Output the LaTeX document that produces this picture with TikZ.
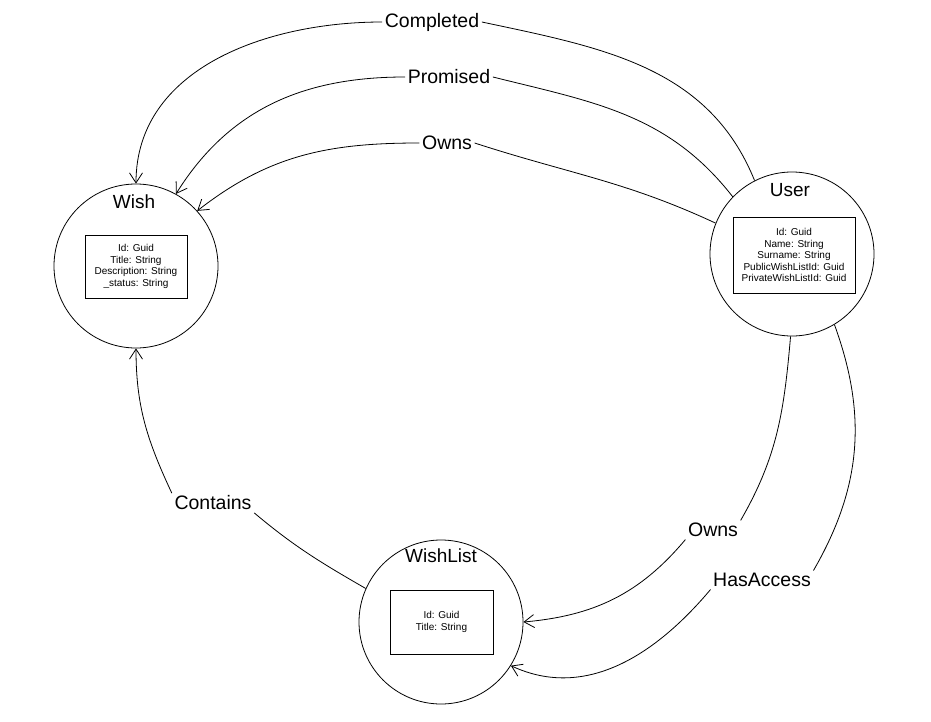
\documentclass[tikz,border=0pt]{standalone}
\usepackage{fontspec}
\setmainfont{Liberation Sans}
\usetikzlibrary{arrows.meta}
\begin{document}
\begin{tikzpicture}[x=1pt,y=-1pt,
  entity/.style={draw,circle,line width=0.8pt,minimum size=164pt,inner sep=0pt},
  title/.style={font=\fontsize{19}{22}\selectfont,inner sep=0pt},
  attrs/.style={draw,line width=0.8pt,align=center,font=\fontsize{10}{11.5}\selectfont,inner sep=0pt},
  rel/.style={font=\fontsize{19.5}{22}\selectfont,fill=white,inner sep=2.5pt},
  edge/.style={line width=0.8pt,-{Straight Barb[length=10pt,width=13pt,line width=0.8pt]}},
  link/.style={line width=0.8pt}]
\useasboundingbox (0,0) rectangle (931,722);

% entities
\node[entity] (wish) at (136,266) {};
\node[entity] (user) at (792,254) {};
\node[entity] (wl) at (441,622) {};

\node[title] (wishT) at (134,202) {Wish};
\node[attrs,minimum width=102pt,minimum height=63pt] (wishA) at (136,266.5)
  {Id: Guid\\Title: String\\Description: String\\\_status: String};

\node[title] (userT) at (790,190) {User};
\node[attrs,minimum width=122pt,minimum height=76pt] (userA) at (794,255)
  {Id: Guid\\Name: String\\Surname: String\\PublicWishListId: Guid\\PrivateWishListId: Guid};

\node[title] (wlT) at (441,556) {WishList};
\node[attrs,minimum width=103pt,minimum height=64pt] (wlA) at (441.5,622)
  {Id: Guid\\Title: String};

% relation labels
\node[rel] (lComp) at (432,22) {Completed};
\node[rel] (lProm) at (449,77) {Promised};
\node[rel] (lOwnW) at (447,143) {Owns};
\node[rel] (lCont) at (213,503) {Contains};
\node[rel] (lOwnL) at (713,530) {Owns};
\node[rel] (lAcc) at (762,580) {HasAccess};

% User -> Wish
\draw[link] (user.117) to[out=112,in=-12] (lComp.east);
\draw[edge] (lComp.west) to[out=180,in=90] (wish.90);
\draw[link] (user.136) to[out=128,in=-14] (lProm.east);
\draw[edge] (lProm.west) to[out=180,in=58] (wish.61);
\draw[link] (user.158) to[out=155,in=-18] (lOwnW.east);
\draw[edge] (lOwnW.west) to[out=180,in=38] (wish.42);

% WishList -> Wish
\draw[link] (wl.156) to[out=150,in=-40] (lCont.south east);
\draw[edge] (lCont.north west) to[out=115,in=-90] (wish.-90);

% User -> WishList
\draw[link] (user.-91) to[out=-95,in=60] (lOwnL.north east);
\draw[edge] (lOwnL.south west) to[out=-130,in=5] (wl.0);
\draw[link] (user.-59) to[out=-70,in=60] (lAcc.north east);
\draw[edge] (lAcc.south west) to[out=-130,in=-25] (wl.-32);
\end{tikzpicture}
\end{document}
